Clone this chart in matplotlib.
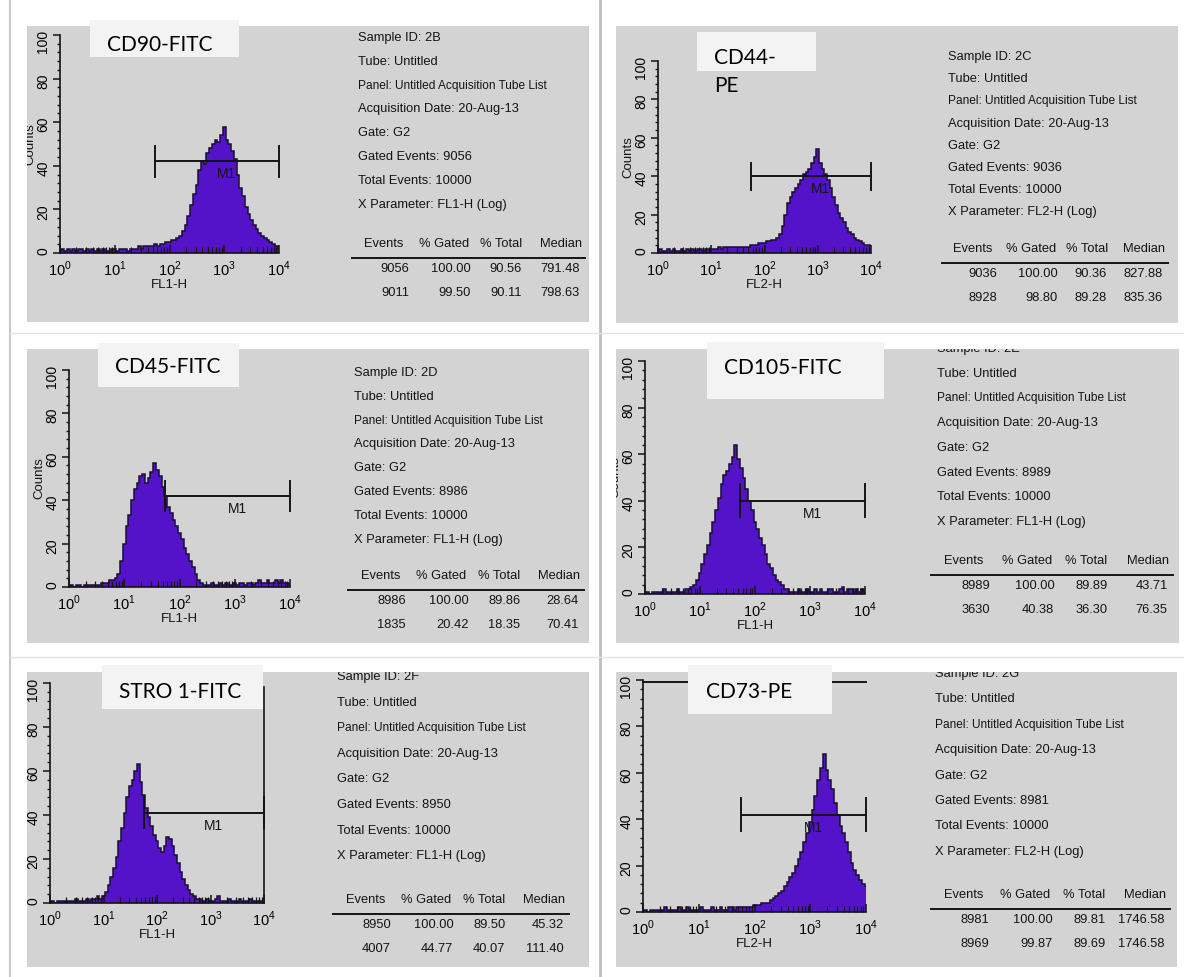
import numpy as np
import matplotlib
matplotlib.use("Agg")
import matplotlib.pyplot as plt
from matplotlib.patches import Rectangle
from matplotlib.ticker import FixedLocator, LogLocator, MultipleLocator, NullFormatter

W, H = 1184, 977

plt.rcParams['font.family'] = ['Liberation Sans', 'DejaVu Sans']
plt.rcParams['mathtext.fontset'] = 'custom'
plt.rcParams['mathtext.rm'] = 'Liberation Sans'

# ---- data -------------------------------------------------------------
markers = ['CD90-FITC', 'CD44-\nPE', 'CD45-FITC', 'CD105-FITC', 'STRO 1-FITC', 'CD73-PE']
sample_ids = ['2B', '2C', '2D', '2E', '2F', '2G']
parameters = ['FL1-H', 'FL2-H', 'FL1-H', 'FL1-H', 'FL1-H', 'FL2-H']
gated_events = [9056, 9036, 8986, 8989, 8950, 8981]
total_events = 10000

# table rows: events, % gated, % total, median
stats_all = [(9056, 100.00, 90.56, 791.48), (9036, 100.00, 90.36, 827.88),
             (8986, 100.00, 89.86, 28.64), (8989, 100.00, 89.89, 43.71),
             (8950, 100.00, 89.50, 45.32), (8981, 100.00, 89.81, 1746.58)]
stats_m1 = [(9011, 99.50, 90.11, 798.63), (8928, 98.80, 89.28, 835.36),
            (1835, 20.42, 18.35, 70.41), (3630, 40.38, 36.30, 76.35),
            (4007, 44.77, 40.07, 111.40), (8969, 99.87, 89.69, 1746.58)]

# M1 marker: lower edge, upper edge, height (counts)
gate_lo = [55, 56, 55, 53, 56, 57]
gate_hi = [10000, 10000, 10000, 10000, 10000, 10000]
gate_y = [42, 40, 42, 40, 41, 42]

# histogram channels, 0.05 decade wide, centred on 10^0 ... 10^4
decades = np.arange(81) * 0.05

cd90 = [1, 2, 1, 2, 1, 2, 1, 2, 2, 1,
        2, 1, 2, 1, 2, 1, 2, 1, 1, 2,
        2, 1, 2, 2, 2, 1, 2, 2, 2, 3,
        2, 3, 3, 3, 3, 4, 3, 4, 4, 5,
        5, 6, 6, 7, 8, 10, 13, 17, 22, 27,
        31, 38, 42, 41, 46, 48, 50, 52, 51, 54,
        58, 52, 50, 47, 43, 36, 30, 26, 21, 18,
        15, 13, 11, 9, 8, 7, 6, 5, 4, 3,
        2]
cd44 = [1, 2, 1, 1, 2, 1, 2, 1, 1, 2,
        1, 2, 1, 2, 1, 2, 2, 1, 2, 2,
        2, 2, 2, 3, 2, 3, 3, 3, 3, 3,
        3, 3, 3, 3, 3, 4, 4, 4, 5, 5,
        5, 6, 6, 7, 7, 8, 10, 14, 20, 26,
        29, 32, 34, 36, 38, 41, 42, 44, 47, 50,
        54, 47, 44, 41, 38, 34, 29, 25, 21, 18,
        16, 13, 11, 10, 8, 7, 6, 5, 4, 4,
        3]
cd45 = [0, 1, 0, 1, 1, 0, 1, 1, 1, 1,
        1, 1, 2, 2, 2, 3, 3, 4, 6, 12,
        20, 28, 33, 40, 45, 48, 51, 52, 48, 50,
        53, 57, 54, 51, 46, 42, 37, 34, 31, 28,
        25, 22, 18, 15, 12, 9, 6, 3, 2, 1,
        1, 1, 2, 1, 1, 2, 1, 2, 1, 1,
        2, 1, 2, 2, 1, 2, 2, 1, 2, 3,
        2, 2, 3, 2, 2, 3, 2, 3, 2, 2,
        1]
cd105 = [1, 1, 0, 1, 1, 1, 1, 2, 1, 1,
         1, 1, 2, 1, 1, 2, 2, 3, 4, 6,
         9, 13, 17, 21, 26, 31, 36, 41, 47, 51,
         53, 56, 59, 64, 58, 54, 50, 45, 40, 36,
         31, 28, 24, 21, 17, 13, 11, 8, 6, 5,
         4, 2, 2, 1, 1, 1, 2, 1, 1, 2,
         1, 1, 2, 1, 2, 1, 1, 2, 2, 1,
         1, 2, 3, 1, 2, 2, 1, 2, 1, 2,
         1]
stro1 = [0, 1, 0, 1, 1, 1, 1, 1, 1, 1,
         2, 1, 1, 1, 2, 1, 2, 2, 3, 2,
         3, 5, 8, 12, 16, 21, 28, 34, 41, 48,
         53, 56, 60, 63, 55, 49, 43, 39, 35, 31,
         28, 25, 23, 26, 30, 29, 26, 22, 18, 14,
         11, 8, 6, 4, 3, 2, 2, 1, 1, 2,
         1, 1, 2, 3, 1, 1, 1, 2, 1, 1,
         1, 2, 1, 1, 1, 2, 1, 1, 1, 1,
         1]
cd73 = [1, 1, 0, 1, 1, 1, 1, 1, 2, 1,
        1, 1, 1, 2, 1, 1, 2, 1, 1, 1,
        1, 2, 1, 1, 1, 2, 1, 1, 2, 1,
        1, 2, 2, 1, 2, 2, 2, 2, 2, 2,
        3, 3, 3, 4, 4, 4, 5, 6, 7, 8,
        9, 11, 13, 15, 17, 20, 23, 26, 30, 34,
        39, 44, 50, 57, 62, 68, 61, 57, 53, 47,
        42, 37, 34, 30, 26, 21, 18, 16, 14, 12,
        11]
histograms = [cd90, cd44, cd45, cd105, stro1, cd73]
for h in histograms:
    assert len(h) == len(decades)

# ---- panel geometry (pixels from top-left) ----------------------------
layout = [
    dict(grey=(27, 26, 589, 322), axes=(60, 279, 253, 35), box=(90, 20, 239, 57), label=(107, 45),
         info=(358, 38, 23.8), table=(352, 585, 258)),
    dict(grey=(616, 26, 1178, 323), axes=(658, 871, 253, 61), box=(697, 32, 816, 71), label=(714, 72),
         info=(948, 57, 22.2), table=(942, 1168, 263)),
    dict(grey=(27, 349, 589, 643), axes=(69, 290, 587, 370), box=(98, 343, 239, 387), label=(115, 367),
         info=(354, 373, 23.8), table=(348, 584, 590)),
    dict(grey=(616, 349, 1179, 643), axes=(645, 865, 594, 361), box=(707, 342, 884, 399), label=(724, 368),
         info=(937, 349, 24.7), table=(931, 1173, 575)),
    dict(grey=(27, 672, 589, 967), axes=(50, 264, 903, 683), box=(102, 665, 263, 709), label=(119, 692),
         info=(337, 677, 25.6), table=(333, 569, 914)),
    dict(grey=(616, 672, 1177, 967), axes=(643, 866, 912, 680), box=(688, 665, 832, 714), label=(706, 692),
         info=(935, 674, 25.4), table=(931, 1170, 909)),
]

PURPLE = '#5513c9'
GREY = '#d3d3d3'
INK = '#141414'
TXT = 9.3

headers = ['Events', '% Gated', '% Total', 'Median']
head_pos = [0.137, 0.395, 0.64, 0.895]
col_pos = [0.245, 0.51, 0.73, 0.978]

fig = plt.figure(figsize=(W / 100, H / 100), dpi=100)
fig.patch.set_facecolor('white')

bg = fig.add_axes([0, 0, 1, 1], zorder=0)
bg.set_xlim(0, W)
bg.set_ylim(H, 0)
bg.axis('off')

top = fig.add_axes([0, 0, 1, 1], zorder=3)
top.set_xlim(0, W)
top.set_ylim(H, 0)
top.axis('off')
top.patch.set_alpha(0)

# faint page separators
bg.plot([10, 10], [0, H], color='#c9c9c9', lw=1.5)
bg.plot([600, 600], [0, H], color='#bdbdbd', lw=2)
for yy in (333, 657):
    bg.plot([10, W], [yy, yy], color='#e4e4e4', lw=1)


def fmt_row(row):
    ev, pg, pt, med = row
    return [f'{ev}', f'{pg:.2f}', f'{pt:.2f}', f'{med:.2f}']


for i, L in enumerate(layout):
    gx0, gy0, gx1, gy1 = L['grey']
    grey = Rectangle((gx0, gy0), gx1 - gx0, gy1 - gy0, fc=GREY, ec='none')
    bg.add_patch(grey)

    # acquisition info
    tx, ty, dy = L['info']
    info = [f'Sample ID: {sample_ids[i]}', 'Tube: Untitled',
            'Panel: Untitled Acquisition Tube List', 'Acquisition Date: 20-Aug-13',
            'Gate: G2', f'Gated Events: {gated_events[i]}',
            f'Total Events: {total_events}', f'X Parameter: {parameters[i]} (Log)']
    for k, s in enumerate(info):
        size = TXT - 0.7 if s.startswith('Panel') else TXT
        t = bg.text(tx, ty + k * dy, s, fontsize=size, ha='left', va='center',
                    color=INK, clip_on=True)
        t.set_clip_path(grey)

    # statistics table
    lx0, lx1, ly = L['table']
    tw = lx1 - lx0
    bg.plot([lx0, lx1], [ly, ly], color=INK, lw=1.4)
    for name, f in zip(headers, head_pos):
        bg.text(lx0 + f * tw, ly - 14, name, fontsize=TXT, ha='center', va='center', color=INK)
    for r, row in enumerate((stats_all[i], stats_m1[i])):
        for val, f in zip(fmt_row(row), col_pos):
            bg.text(lx0 + f * tw, ly + 11 + r * 24, val, fontsize=TXT,
                    ha='right', va='center', color=INK)

    # marker name box
    bx0, by0, bx1, by1 = L['box']
    top.add_patch(Rectangle((bx0, by0), bx1 - bx0, by1 - by0, fc='#f3f3f3', ec='none'))
    top.text(L['label'][0], L['label'][1], markers[i], fontsize=15, ha='left', va='center',
             family=['Lato', 'Open Sans', 'DejaVu Sans'], color='black', linespacing=1.45)

    # histogram
    x0, x1, y0, y100 = L['axes']
    ax = fig.add_axes([x0 / W, 1 - y0 / H, (x1 - x0) / W, (y0 - y100) / H], zorder=1)
    ax.patch.set_alpha(0)
    ax.set_xscale('log')
    edges = 10 ** np.append(decades - 0.025, decades[-1] + 0.025)
    counts = np.array(histograms[i], dtype=float)
    ax.stairs(counts, edges, fill=True, color=PURPLE, lw=0)
    ax.stairs(counts, edges, color='#1a0f33', lw=1.1)
    ax.set_xlim(1, 1e4)
    ax.set_ylim(0, 100)

    lo, hi, gy = gate_lo[i], gate_hi[i], gate_y[i]
    ax.plot([lo, hi], [gy, gy], color=INK, lw=1.4, clip_on=False)
    for xe in (lo, hi):
        ax.plot([xe, xe], [gy - 7, gy + 7], color=INK, lw=1.4, clip_on=False)
    ax.annotate('M1', (np.sqrt(lo * hi), gy), xytext=(0, -13), textcoords='offset pixels',
                ha='left', va='center', fontsize=10, color=INK)
    if i == 4:
        ax.plot([hi, hi], [0, 98], color=INK, lw=1.2, clip_on=False)
    if i == 5:
        ax.plot([1, hi], [99, 99], color=INK, lw=1.4, clip_on=False)

    for side in ('top', 'right'):
        ax.spines[side].set_visible(False)
    for side in ('left', 'bottom'):
        ax.spines[side].set_linewidth(1.2)
        ax.spines[side].set_color(INK)

    ax.xaxis.set_major_locator(FixedLocator([1, 10, 100, 1000, 10000]))
    ax.set_xticklabels([r'$10^{%d}$' % k for k in range(5)])
    ax.xaxis.set_minor_locator(LogLocator(base=10, subs=range(2, 10), numticks=20))
    ax.xaxis.set_minor_formatter(NullFormatter())
    ax.tick_params(axis='x', which='both', direction='in', color=INK)
    ax.tick_params(axis='x', which='major', length=6, width=1.1, labelsize=10.5, pad=5)
    ax.tick_params(axis='x', which='minor', length=4, width=0.9)

    ax.set_yticks(range(0, 101, 20))
    ax.yaxis.set_minor_locator(MultipleLocator(4))
    ax.tick_params(axis='y', which='major', direction='out', length=5, width=1.1,
                   labelsize=10, labelrotation=90, pad=2, color=INK)
    ax.tick_params(axis='y', which='minor', direction='out', length=2.5, width=1, color=INK)
    for lab in ax.get_yticklabels():
        lab.set_clip_path(grey)

    ax.set_xlabel(parameters[i], fontsize=9.5, labelpad=0, color=INK)
    ax.set_ylabel('Counts', fontsize=9.5, labelpad=0, color=INK)
    ax.yaxis.label.set_clip_path(grey)

fig.savefig('out.png', dpi=100)
